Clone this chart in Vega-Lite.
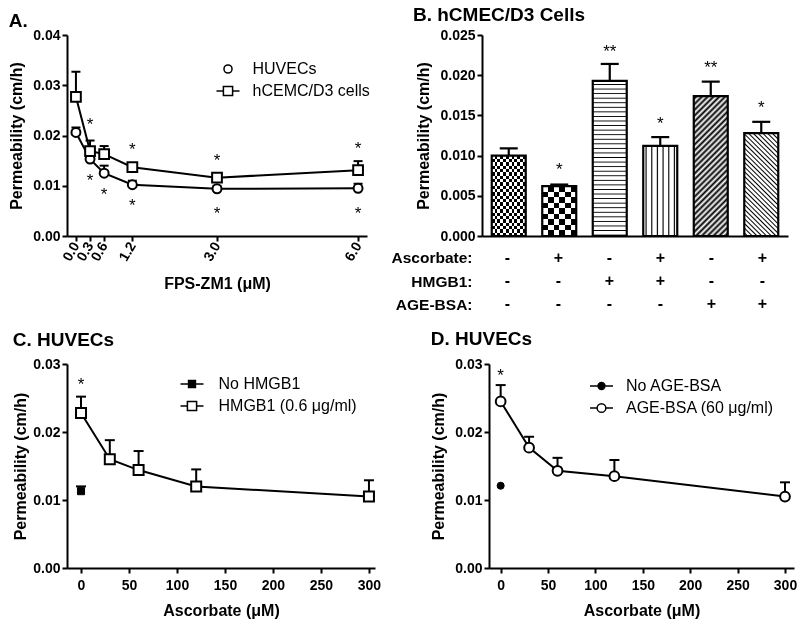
{
"$schema": "https://vega.github.io/schema/vega-lite/v6.json",
"background": "white",
"padding": {"left": 8, "top": 6, "right": 5, "bottom": 5},
"config": {
 "font": "Liberation Sans",
 "view": {"stroke": null},
 "axis": {"labelFont": "Liberation Sans", "labelFontSize": 14, "labelFontWeight": "bold", "labelColor": "black", "titleFont": "Liberation Sans", "titleFontSize": 16, "titleFontWeight": "bold", "titleColor": "black", "domainColor": "black", "domainWidth": 2, "tickColor": "black", "tickWidth": 2, "tickSize": 5, "grid": false, "labelPadding": 2},
 "axisY": {"titlePadding": 8},
 "title": {"fontSize": 19, "fontWeight": "bold", "anchor": "start", "frame": "bounds", "color": "black", "font": "Liberation Sans"},
 "legend": {"orient": "none", "title": null, "labelFont": "Liberation Sans", "labelFontSize": 16, "labelFontWeight": "normal", "labelColor": "black", "symbolSize": 529, "padding": 0, "rowPadding": 1, "symbolStrokeWidth": 1.5, "symbolStrokeColor": "black", "direction": "vertical"}
},
"datasets": {
 "A": [
  {"s": "HUVECs", "x": 0, "y": 0.0206, "e": 0.0216},
  {"s": "HUVECs", "x": 0.3, "y": 0.0153, "e": 0.0159},
  {"s": "HUVECs", "x": 0.6, "y": 0.0125, "e": 0.0140},
  {"s": "HUVECs", "x": 1.2, "y": 0.0102, "e": 0.0110},
  {"s": "HUVECs", "x": 3, "y": 0.0094, "e": 0.0100},
  {"s": "HUVECs", "x": 6, "y": 0.0095, "e": 0.0104},
  {"s": "hCEMC/D3 cells", "x": 0, "y": 0.0277, "e": 0.0327},
  {"s": "hCEMC/D3 cells", "x": 0.3, "y": 0.0169, "e": 0.0190},
  {"s": "hCEMC/D3 cells", "x": 0.6, "y": 0.0163, "e": 0.0179},
  {"s": "hCEMC/D3 cells", "x": 1.2, "y": 0.0137, "e": 0.0145},
  {"s": "hCEMC/D3 cells", "x": 3, "y": 0.0116, "e": 0.0123},
  {"s": "hCEMC/D3 cells", "x": 6, "y": 0.0131, "e": 0.0149}
 ],
 "Astar": [
  {"x": 0.3, "y": 0.0230}, {"x": 1.2, "y": 0.0181}, {"x": 3, "y": 0.0159}, {"x": 6, "y": 0.0183},
  {"x": 0.3, "y": 0.0119}, {"x": 0.6, "y": 0.0092}, {"x": 1.2, "y": 0.0070}, {"x": 3, "y": 0.0053}, {"x": 6, "y": 0.0053}
 ],
 "B": [
  {"g": 1, "v": 0.0100, "e": 0.0109, "s": null, "t": ""},
  {"g": 2, "v": 0.0062, "e": 0.0064, "s": 0.0088, "t": "*"},
  {"g": 3, "v": 0.0193, "e": 0.0214, "s": 0.0235, "t": "**"},
  {"g": 4, "v": 0.0112, "e": 0.0123, "s": 0.0146, "t": "*"},
  {"g": 5, "v": 0.0174, "e": 0.0192, "s": 0.0215, "t": "**"},
  {"g": 6, "v": 0.0128, "e": 0.0142, "s": 0.0165, "t": "*"}
 ],
 "T": [
  {"g": 1, "f": "Ascorbate:", "t": "-"}, {"g": 2, "f": "Ascorbate:", "t": "+"}, {"g": 3, "f": "Ascorbate:", "t": "-"}, {"g": 4, "f": "Ascorbate:", "t": "+"}, {"g": 5, "f": "Ascorbate:", "t": "-"}, {"g": 6, "f": "Ascorbate:", "t": "+"},
  {"g": 1, "f": "HMGB1:", "t": "-"}, {"g": 2, "f": "HMGB1:", "t": "-"}, {"g": 3, "f": "HMGB1:", "t": "+"}, {"g": 4, "f": "HMGB1:", "t": "+"}, {"g": 5, "f": "HMGB1:", "t": "-"}, {"g": 6, "f": "HMGB1:", "t": "-"},
  {"g": 1, "f": "AGE-BSA:", "t": "-"}, {"g": 2, "f": "AGE-BSA:", "t": "-"}, {"g": 3, "f": "AGE-BSA:", "t": "-"}, {"g": 4, "f": "AGE-BSA:", "t": "-"}, {"g": 5, "f": "AGE-BSA:", "t": "+"}, {"g": 6, "f": "AGE-BSA:", "t": "+"}
 ],
 "C": [
  {"s": "HMGB1 (0.6 μg/ml)", "x": 0, "y": 0.0228, "e": 0.0252},
  {"s": "HMGB1 (0.6 μg/ml)", "x": 30, "y": 0.0160, "e": 0.0188},
  {"s": "HMGB1 (0.6 μg/ml)", "x": 60, "y": 0.0144, "e": 0.0172},
  {"s": "HMGB1 (0.6 μg/ml)", "x": 120, "y": 0.0120, "e": 0.0145},
  {"s": "HMGB1 (0.6 μg/ml)", "x": 300, "y": 0.0105, "e": 0.0129},
  {"s": "No HMGB1", "x": 0, "y": 0.0113, "e": 0.0120}
 ],
 "Cstar": [{"x": 0, "y": 0.0276}],
 "D": [
  {"s": "AGE-BSA (60 μg/ml)", "x": 0, "y": 0.0245, "e": 0.0269},
  {"s": "AGE-BSA (60 μg/ml)", "x": 30, "y": 0.0177, "e": 0.0193},
  {"s": "AGE-BSA (60 μg/ml)", "x": 60, "y": 0.0143, "e": 0.0162},
  {"s": "AGE-BSA (60 μg/ml)", "x": 120, "y": 0.0135, "e": 0.0159},
  {"s": "AGE-BSA (60 μg/ml)", "x": 300, "y": 0.0105, "e": 0.0126},
  {"s": "No AGE-BSA", "x": 0, "y": 0.0121, "e": null}
 ],
 "Dstar": [{"x": 0, "y": 0.0289}]
},
"spacing": 14,
"resolve": {"scale": {"shape": "independent", "fill": "independent", "stroke": "independent"}},
"vconcat": [
 {
  "spacing": 20,
  "resolve": {"scale": {"shape": "independent", "fill": "independent", "stroke": "independent"}},
  "hconcat": [
   {
    "title": {"text": "A.", "offset": -3},
    "width": 300, "height": 201,
    "data": {"name": "A"},
    "encoding": {
     "x": {"field": "x", "type": "quantitative", "scale": {"domain": [-0.19, 6.19], "nice": false, "zero": false}, "axis": {"values": [0, 0.3, 0.6, 1.2, 3, 6], "format": ".1f", "labelAngle": -60, "labelAlign": "right", "labelBaseline": "middle", "labelOverlap": false, "labelFlush": false, "labelBound": false, "title": "FPS-ZM1 (μM)", "titlePadding": 12}},
     "y": {"field": "y", "type": "quantitative", "title": "Permeability (cm/h)", "scale": {"domain": [0, 0.04], "nice": false}, "axis": {"values": [0, 0.01, 0.02, 0.03, 0.04], "format": ".2f"}}
    },
    "layer": [
     {"mark": {"type": "rule", "color": "black", "strokeWidth": 2}, "encoding": {"y2": {"field": "e"}}},
     {"mark": {"type": "tick", "orient": "horizontal", "color": "black", "opacity": 1, "size": 9, "thickness": 2}, "encoding": {"y": {"field": "e", "type": "quantitative", "title": "Permeability (cm/h)"}}},
     {"mark": {"type": "line", "color": "black", "strokeWidth": 2}, "encoding": {"detail": {"field": "s"}}},
     {"transform": [{"filter": "datum.s == 'HUVECs'"}], "mark": {"type": "point", "shape": "circle", "filled": true, "fill": "white", "stroke": "black", "strokeWidth": 2, "size": 80, "opacity": 1}},
     {"transform": [{"filter": "datum.s != 'HUVECs'"}], "mark": {"type": "point", "shape": "square", "filled": true, "fill": "white", "stroke": "black", "strokeWidth": 2, "size": 95, "opacity": 1}},
     {"data": {"name": "Astar"}, "mark": {"type": "text", "text": "*", "fontSize": 17, "color": "black", "baseline": "alphabetic", "dy": 10}},
     {"transform": [{"filter": "false"}], "mark": {"type": "point", "filled": true, "strokeWidth": 1.5, "opacity": 1},
      "encoding": {
       "shape": {"field": "s", "type": "nominal", "scale": {"domain": ["HUVECs", "hCEMC/D3 cells"], "range": ["M-0.35,0A0.35,0.35 0 1,1 0.35,0A0.35,0.35 0 1,1 -0.35,0Z", "M-1,0H-0.4M0.4,0H1M-0.4,-0.4H0.4V0.4H-0.4Z"]}, "legend": {"legendX": 148.5, "legendY": 21.5, "labelOffset": 12}},
       "fill": {"field": "s", "type": "nominal", "scale": {"domain": ["HUVECs", "hCEMC/D3 cells"], "range": ["white", "white"]}, "legend": {"legendX": 148.5, "legendY": 21.5, "labelOffset": 12}},
       "stroke": {"field": "s", "type": "nominal", "scale": {"domain": ["HUVECs", "hCEMC/D3 cells"], "range": ["black", "black"]}, "legend": {"legendX": 148.5, "legendY": 21.5, "labelOffset": 12}}
      }}
    ]
   },
   {
    "spacing": 3,
    "vconcat": [
     {
      "title": {"text": "B. hCMEC/D3 Cells", "offset": 3, "dx": -3},
      "width": 306, "height": 201,
      "data": {"name": "B"},
      "encoding": {
       "x": {"field": "g", "type": "nominal", "scale": {"paddingInner": 0.327, "paddingOuter": 0.193}, "axis": {"labels": false, "ticks": false, "title": null}},
       "y": {"field": "v", "type": "quantitative", "title": "Permeability (cm/h)", "scale": {"domain": [0, 0.025], "nice": false}, "axis": {"values": [0, 0.005, 0.01, 0.015, 0.02, 0.025], "format": ".3f"}}
      },
      "layer": [
       {"transform": [{"filter": "datum.g == 1"}], "mark": {"type": "bar", "fill": {"gradient": "linear", "x1": 0, "y1": 0, "x2": 0, "y2": 1, "stops": [
        {"offset": 0.0417, "color": "#000"}, {"offset": 0.0417, "color": "#fff"}, {"offset": 0.0833, "color": "#fff"}, {"offset": 0.0833, "color": "#000"},
        {"offset": 0.125, "color": "#000"}, {"offset": 0.125, "color": "#fff"}, {"offset": 0.1667, "color": "#fff"}, {"offset": 0.1667, "color": "#000"},
        {"offset": 0.2083, "color": "#000"}, {"offset": 0.2083, "color": "#fff"}, {"offset": 0.25, "color": "#fff"}, {"offset": 0.25, "color": "#000"},
        {"offset": 0.2917, "color": "#000"}, {"offset": 0.2917, "color": "#fff"}, {"offset": 0.3333, "color": "#fff"}, {"offset": 0.3333, "color": "#000"},
        {"offset": 0.375, "color": "#000"}, {"offset": 0.375, "color": "#fff"}, {"offset": 0.4167, "color": "#fff"}, {"offset": 0.4167, "color": "#000"},
        {"offset": 0.4583, "color": "#000"}, {"offset": 0.4583, "color": "#fff"}, {"offset": 0.5, "color": "#fff"}, {"offset": 0.5, "color": "#000"},
        {"offset": 0.5417, "color": "#000"}, {"offset": 0.5417, "color": "#fff"}, {"offset": 0.5833, "color": "#fff"}, {"offset": 0.5833, "color": "#000"},
        {"offset": 0.625, "color": "#000"}, {"offset": 0.625, "color": "#fff"}, {"offset": 0.6667, "color": "#fff"}, {"offset": 0.6667, "color": "#000"},
        {"offset": 0.7083, "color": "#000"}, {"offset": 0.7083, "color": "#fff"}, {"offset": 0.75, "color": "#fff"}, {"offset": 0.75, "color": "#000"},
        {"offset": 0.7917, "color": "#000"}, {"offset": 0.7917, "color": "#fff"}, {"offset": 0.8333, "color": "#fff"}, {"offset": 0.8333, "color": "#000"},
        {"offset": 0.875, "color": "#000"}, {"offset": 0.875, "color": "#fff"}, {"offset": 0.9167, "color": "#fff"}, {"offset": 0.9167, "color": "#000"},
        {"offset": 0.9583, "color": "#000"}, {"offset": 0.9583, "color": "#fff"}]}}},
       {"transform": [{"filter": "datum.g == 1"}], "mark": {"type": "bar", "blend": "difference", "fill": {"gradient": "linear", "x1": 0, "y1": 0, "x2": 1, "y2": 0, "stops": [
        {"offset": 0.0833, "color": "#fff"}, {"offset": 0.0833, "color": "rgba(255,255,255,0)"}, {"offset": 0.1667, "color": "rgba(255,255,255,0)"}, {"offset": 0.1667, "color": "#fff"},
        {"offset": 0.25, "color": "#fff"}, {"offset": 0.25, "color": "rgba(255,255,255,0)"}, {"offset": 0.3333, "color": "rgba(255,255,255,0)"}, {"offset": 0.3333, "color": "#fff"},
        {"offset": 0.4167, "color": "#fff"}, {"offset": 0.4167, "color": "rgba(255,255,255,0)"}, {"offset": 0.5, "color": "rgba(255,255,255,0)"}, {"offset": 0.5, "color": "#fff"},
        {"offset": 0.5833, "color": "#fff"}, {"offset": 0.5833, "color": "rgba(255,255,255,0)"}, {"offset": 0.6667, "color": "rgba(255,255,255,0)"}, {"offset": 0.6667, "color": "#fff"},
        {"offset": 0.75, "color": "#fff"}, {"offset": 0.75, "color": "rgba(255,255,255,0)"}, {"offset": 0.8333, "color": "rgba(255,255,255,0)"}, {"offset": 0.8333, "color": "#fff"},
        {"offset": 0.9167, "color": "#fff"}, {"offset": 0.9167, "color": "rgba(255,255,255,0)"}]}}},
       {"transform": [{"filter": "datum.g == 2"}], "mark": {"type": "bar", "fill": {"gradient": "linear", "x1": 0, "y1": 0, "x2": 0, "y2": 1, "stops": [
        {"offset": 0.1111, "color": "#000"}, {"offset": 0.1111, "color": "#fff"}, {"offset": 0.2222, "color": "#fff"}, {"offset": 0.2222, "color": "#000"},
        {"offset": 0.3333, "color": "#000"}, {"offset": 0.3333, "color": "#fff"}, {"offset": 0.4444, "color": "#fff"}, {"offset": 0.4444, "color": "#000"},
        {"offset": 0.5556, "color": "#000"}, {"offset": 0.5556, "color": "#fff"}, {"offset": 0.6667, "color": "#fff"}, {"offset": 0.6667, "color": "#000"},
        {"offset": 0.7778, "color": "#000"}, {"offset": 0.7778, "color": "#fff"}, {"offset": 0.8889, "color": "#fff"}, {"offset": 0.8889, "color": "#000"}]}}},
       {"transform": [{"filter": "datum.g == 2"}], "mark": {"type": "bar", "blend": "difference", "fill": {"gradient": "linear", "x1": 0, "y1": 0, "x2": 1, "y2": 0, "stops": [
        {"offset": 0.1667, "color": "#fff"}, {"offset": 0.1667, "color": "rgba(255,255,255,0)"}, {"offset": 0.3333, "color": "rgba(255,255,255,0)"}, {"offset": 0.3333, "color": "#fff"},
        {"offset": 0.5, "color": "#fff"}, {"offset": 0.5, "color": "rgba(255,255,255,0)"}, {"offset": 0.6667, "color": "rgba(255,255,255,0)"}, {"offset": 0.6667, "color": "#fff"},
        {"offset": 0.8333, "color": "#fff"}, {"offset": 0.8333, "color": "rgba(255,255,255,0)"}]}}},
       {"transform": [{"filter": "datum.g == 3"}], "mark": {"type": "bar", "fill": {"gradient": "linear", "x1": 0, "y1": 0, "x2": 0, "y2": 1, "stops": [
        {"offset": 0.0176, "color": "#fff"}, {"offset": 0.0235, "color": "#000"}, {"offset": 0.0294, "color": "#fff"},
        {"offset": 0.0471, "color": "#fff"}, {"offset": 0.0529, "color": "#000"}, {"offset": 0.0588, "color": "#fff"},
        {"offset": 0.0765, "color": "#fff"}, {"offset": 0.0824, "color": "#000"}, {"offset": 0.0882, "color": "#fff"},
        {"offset": 0.1059, "color": "#fff"}, {"offset": 0.1118, "color": "#000"}, {"offset": 0.1176, "color": "#fff"},
        {"offset": 0.1353, "color": "#fff"}, {"offset": 0.1412, "color": "#000"}, {"offset": 0.1471, "color": "#fff"},
        {"offset": 0.1647, "color": "#fff"}, {"offset": 0.1706, "color": "#000"}, {"offset": 0.1765, "color": "#fff"},
        {"offset": 0.1941, "color": "#fff"}, {"offset": 0.2, "color": "#000"}, {"offset": 0.2059, "color": "#fff"},
        {"offset": 0.2235, "color": "#fff"}, {"offset": 0.2294, "color": "#000"}, {"offset": 0.2353, "color": "#fff"},
        {"offset": 0.2529, "color": "#fff"}, {"offset": 0.2588, "color": "#000"}, {"offset": 0.2647, "color": "#fff"},
        {"offset": 0.2824, "color": "#fff"}, {"offset": 0.2882, "color": "#000"}, {"offset": 0.2941, "color": "#fff"},
        {"offset": 0.3118, "color": "#fff"}, {"offset": 0.3176, "color": "#000"}, {"offset": 0.3235, "color": "#fff"},
        {"offset": 0.3412, "color": "#fff"}, {"offset": 0.3471, "color": "#000"}, {"offset": 0.3529, "color": "#fff"},
        {"offset": 0.3706, "color": "#fff"}, {"offset": 0.3765, "color": "#000"}, {"offset": 0.3824, "color": "#fff"},
        {"offset": 0.4, "color": "#fff"}, {"offset": 0.4059, "color": "#000"}, {"offset": 0.4118, "color": "#fff"},
        {"offset": 0.4294, "color": "#fff"}, {"offset": 0.4353, "color": "#000"}, {"offset": 0.4412, "color": "#fff"},
        {"offset": 0.4588, "color": "#fff"}, {"offset": 0.4647, "color": "#000"}, {"offset": 0.4706, "color": "#fff"},
        {"offset": 0.4882, "color": "#fff"}, {"offset": 0.4941, "color": "#000"}, {"offset": 0.5, "color": "#fff"},
        {"offset": 0.5176, "color": "#fff"}, {"offset": 0.5235, "color": "#000"}, {"offset": 0.5294, "color": "#fff"},
        {"offset": 0.5471, "color": "#fff"}, {"offset": 0.5529, "color": "#000"}, {"offset": 0.5588, "color": "#fff"},
        {"offset": 0.5765, "color": "#fff"}, {"offset": 0.5824, "color": "#000"}, {"offset": 0.5882, "color": "#fff"},
        {"offset": 0.6059, "color": "#fff"}, {"offset": 0.6118, "color": "#000"}, {"offset": 0.6176, "color": "#fff"},
        {"offset": 0.6353, "color": "#fff"}, {"offset": 0.6412, "color": "#000"}, {"offset": 0.6471, "color": "#fff"},
        {"offset": 0.6647, "color": "#fff"}, {"offset": 0.6706, "color": "#000"}, {"offset": 0.6765, "color": "#fff"},
        {"offset": 0.6941, "color": "#fff"}, {"offset": 0.7, "color": "#000"}, {"offset": 0.7059, "color": "#fff"},
        {"offset": 0.7235, "color": "#fff"}, {"offset": 0.7294, "color": "#000"}, {"offset": 0.7353, "color": "#fff"},
        {"offset": 0.7529, "color": "#fff"}, {"offset": 0.7588, "color": "#000"}, {"offset": 0.7647, "color": "#fff"},
        {"offset": 0.7824, "color": "#fff"}, {"offset": 0.7882, "color": "#000"}, {"offset": 0.7941, "color": "#fff"},
        {"offset": 0.8118, "color": "#fff"}, {"offset": 0.8176, "color": "#000"}, {"offset": 0.8235, "color": "#fff"},
        {"offset": 0.8412, "color": "#fff"}, {"offset": 0.8471, "color": "#000"}, {"offset": 0.8529, "color": "#fff"},
        {"offset": 0.8706, "color": "#fff"}, {"offset": 0.8765, "color": "#000"}, {"offset": 0.8824, "color": "#fff"},
        {"offset": 0.9, "color": "#fff"}, {"offset": 0.9059, "color": "#000"}, {"offset": 0.9118, "color": "#fff"},
        {"offset": 0.9294, "color": "#fff"}, {"offset": 0.9353, "color": "#000"}, {"offset": 0.9412, "color": "#fff"},
        {"offset": 0.9588, "color": "#fff"}, {"offset": 0.9647, "color": "#000"}, {"offset": 0.9706, "color": "#fff"},
        {"offset": 0.9882, "color": "#fff"}, {"offset": 0.9941, "color": "#000"}, {"offset": 1, "color": "#fff"}]}}},
       {"transform": [{"filter": "datum.g == 4"}], "mark": {"type": "bar", "fill": {"gradient": "linear", "x1": 0, "y1": 0, "x2": 1, "y2": 0, "stops": [
        {"offset": 0.05, "color": "#fff"}, {"offset": 0.0833, "color": "#000"}, {"offset": 0.1167, "color": "#fff"},
        {"offset": 0.2167, "color": "#fff"}, {"offset": 0.25, "color": "#000"}, {"offset": 0.2833, "color": "#fff"},
        {"offset": 0.3833, "color": "#fff"}, {"offset": 0.4167, "color": "#000"}, {"offset": 0.45, "color": "#fff"},
        {"offset": 0.55, "color": "#fff"}, {"offset": 0.5833, "color": "#000"}, {"offset": 0.6167, "color": "#fff"},
        {"offset": 0.7167, "color": "#fff"}, {"offset": 0.75, "color": "#000"}, {"offset": 0.7833, "color": "#fff"},
        {"offset": 0.8833, "color": "#fff"}, {"offset": 0.9167, "color": "#000"}, {"offset": 0.95, "color": "#fff"}]}}},
       {"transform": [{"filter": "datum.g == 5"}], "mark": {"type": "bar", "fill": {"gradient": "linear", "x1": 0, "y1": 0, "x2": 0.285, "y2": 1.174, "stops": [
        {"offset": 0, "color": "#fff"}, {"offset": 0.0167, "color": "#000"}, {"offset": 0.0333, "color": "#fff"}, {"offset": 0.05, "color": "#000"},
        {"offset": 0.0667, "color": "#fff"}, {"offset": 0.0833, "color": "#000"}, {"offset": 0.1, "color": "#fff"}, {"offset": 0.1167, "color": "#000"},
        {"offset": 0.1333, "color": "#fff"}, {"offset": 0.15, "color": "#000"}, {"offset": 0.1667, "color": "#fff"}, {"offset": 0.1833, "color": "#000"},
        {"offset": 0.2, "color": "#fff"}, {"offset": 0.2167, "color": "#000"}, {"offset": 0.2333, "color": "#fff"}, {"offset": 0.25, "color": "#000"},
        {"offset": 0.2667, "color": "#fff"}, {"offset": 0.2833, "color": "#000"}, {"offset": 0.3, "color": "#fff"}, {"offset": 0.3167, "color": "#000"},
        {"offset": 0.3333, "color": "#fff"}, {"offset": 0.35, "color": "#000"}, {"offset": 0.3667, "color": "#fff"}, {"offset": 0.3833, "color": "#000"},
        {"offset": 0.4, "color": "#fff"}, {"offset": 0.4167, "color": "#000"}, {"offset": 0.4333, "color": "#fff"}, {"offset": 0.45, "color": "#000"},
        {"offset": 0.4667, "color": "#fff"}, {"offset": 0.4833, "color": "#000"}, {"offset": 0.5, "color": "#fff"}, {"offset": 0.5167, "color": "#000"},
        {"offset": 0.5333, "color": "#fff"}, {"offset": 0.55, "color": "#000"}, {"offset": 0.5667, "color": "#fff"}, {"offset": 0.5833, "color": "#000"},
        {"offset": 0.6, "color": "#fff"}, {"offset": 0.6167, "color": "#000"}, {"offset": 0.6333, "color": "#fff"}, {"offset": 0.65, "color": "#000"},
        {"offset": 0.6667, "color": "#fff"}, {"offset": 0.6833, "color": "#000"}, {"offset": 0.7, "color": "#fff"}, {"offset": 0.7167, "color": "#000"},
        {"offset": 0.7333, "color": "#fff"}, {"offset": 0.75, "color": "#000"}, {"offset": 0.7667, "color": "#fff"}, {"offset": 0.7833, "color": "#000"},
        {"offset": 0.8, "color": "#fff"}, {"offset": 0.8167, "color": "#000"}, {"offset": 0.8333, "color": "#fff"}, {"offset": 0.85, "color": "#000"},
        {"offset": 0.8667, "color": "#fff"}, {"offset": 0.8833, "color": "#000"}, {"offset": 0.9, "color": "#fff"}, {"offset": 0.9167, "color": "#000"},
        {"offset": 0.9333, "color": "#fff"}, {"offset": 0.95, "color": "#000"}, {"offset": 0.9667, "color": "#fff"}, {"offset": 0.9833, "color": "#000"},
        {"offset": 1, "color": "#fff"}]}}},
       {"transform": [{"filter": "datum.g == 6"}], "mark": {"type": "bar", "fill": {"gradient": "linear", "x1": 0, "y1": 1, "x2": 0.392, "y2": -0.199, "stops": [
        {"offset": 0.0138, "color": "#fff"}, {"offset": 0.0241, "color": "#000"}, {"offset": 0.0345, "color": "#fff"},
        {"offset": 0.0483, "color": "#fff"}, {"offset": 0.0586, "color": "#000"}, {"offset": 0.069, "color": "#fff"},
        {"offset": 0.0828, "color": "#fff"}, {"offset": 0.0931, "color": "#000"}, {"offset": 0.1034, "color": "#fff"},
        {"offset": 0.1172, "color": "#fff"}, {"offset": 0.1276, "color": "#000"}, {"offset": 0.1379, "color": "#fff"},
        {"offset": 0.1517, "color": "#fff"}, {"offset": 0.1621, "color": "#000"}, {"offset": 0.1724, "color": "#fff"},
        {"offset": 0.1862, "color": "#fff"}, {"offset": 0.1966, "color": "#000"}, {"offset": 0.2069, "color": "#fff"},
        {"offset": 0.2207, "color": "#fff"}, {"offset": 0.231, "color": "#000"}, {"offset": 0.2414, "color": "#fff"},
        {"offset": 0.2552, "color": "#fff"}, {"offset": 0.2655, "color": "#000"}, {"offset": 0.2759, "color": "#fff"},
        {"offset": 0.2897, "color": "#fff"}, {"offset": 0.3, "color": "#000"}, {"offset": 0.3103, "color": "#fff"},
        {"offset": 0.3241, "color": "#fff"}, {"offset": 0.3345, "color": "#000"}, {"offset": 0.3448, "color": "#fff"},
        {"offset": 0.3586, "color": "#fff"}, {"offset": 0.369, "color": "#000"}, {"offset": 0.3793, "color": "#fff"},
        {"offset": 0.3931, "color": "#fff"}, {"offset": 0.4034, "color": "#000"}, {"offset": 0.4138, "color": "#fff"},
        {"offset": 0.4276, "color": "#fff"}, {"offset": 0.4379, "color": "#000"}, {"offset": 0.4483, "color": "#fff"},
        {"offset": 0.4621, "color": "#fff"}, {"offset": 0.4724, "color": "#000"}, {"offset": 0.4828, "color": "#fff"},
        {"offset": 0.4966, "color": "#fff"}, {"offset": 0.5069, "color": "#000"}, {"offset": 0.5172, "color": "#fff"},
        {"offset": 0.531, "color": "#fff"}, {"offset": 0.5414, "color": "#000"}, {"offset": 0.5517, "color": "#fff"},
        {"offset": 0.5655, "color": "#fff"}, {"offset": 0.5759, "color": "#000"}, {"offset": 0.5862, "color": "#fff"},
        {"offset": 0.6, "color": "#fff"}, {"offset": 0.6103, "color": "#000"}, {"offset": 0.6207, "color": "#fff"},
        {"offset": 0.6345, "color": "#fff"}, {"offset": 0.6448, "color": "#000"}, {"offset": 0.6552, "color": "#fff"},
        {"offset": 0.669, "color": "#fff"}, {"offset": 0.6793, "color": "#000"}, {"offset": 0.6897, "color": "#fff"},
        {"offset": 0.7034, "color": "#fff"}, {"offset": 0.7138, "color": "#000"}, {"offset": 0.7241, "color": "#fff"},
        {"offset": 0.7379, "color": "#fff"}, {"offset": 0.7483, "color": "#000"}, {"offset": 0.7586, "color": "#fff"},
        {"offset": 0.7724, "color": "#fff"}, {"offset": 0.7828, "color": "#000"}, {"offset": 0.7931, "color": "#fff"},
        {"offset": 0.8069, "color": "#fff"}, {"offset": 0.8172, "color": "#000"}, {"offset": 0.8276, "color": "#fff"},
        {"offset": 0.8414, "color": "#fff"}, {"offset": 0.8517, "color": "#000"}, {"offset": 0.8621, "color": "#fff"},
        {"offset": 0.8759, "color": "#fff"}, {"offset": 0.8862, "color": "#000"}, {"offset": 0.8966, "color": "#fff"},
        {"offset": 0.9103, "color": "#fff"}, {"offset": 0.9207, "color": "#000"}, {"offset": 0.931, "color": "#fff"},
        {"offset": 0.9448, "color": "#fff"}, {"offset": 0.9552, "color": "#000"}, {"offset": 0.9655, "color": "#fff"},
        {"offset": 0.9793, "color": "#fff"}, {"offset": 0.9897, "color": "#000"}, {"offset": 1, "color": "#fff"}]}}},
       {"mark": {"type": "bar", "fill": "transparent", "stroke": "black", "strokeWidth": 2.2}},
       {"mark": {"type": "rule", "color": "black", "strokeWidth": 2.2}, "encoding": {"y2": {"field": "e"}}},
       {"mark": {"type": "tick", "color": "black", "opacity": 1, "size": 18, "thickness": 2.2}, "encoding": {"y": {"field": "e", "type": "quantitative", "title": "Permeability (cm/h)"}}},
       {"transform": [{"filter": "datum.s != null"}], "mark": {"type": "text", "fontSize": 17, "color": "black", "baseline": "alphabetic", "dy": 10}, "encoding": {"y": {"field": "s", "type": "quantitative", "title": "Permeability (cm/h)"}, "text": {"field": "t"}}}
      ]
     },
     {
      "width": 306, "height": 70,
      "data": {"name": "T"},
      "mark": {"type": "text", "fontSize": 16, "fontWeight": "bold", "color": "black", "baseline": "middle", "align": "center"},
      "encoding": {
       "x": {"field": "g", "type": "nominal", "scale": {"paddingInner": 0.327, "paddingOuter": 0.193}, "axis": null},
       "y": {"field": "f", "type": "nominal", "sort": ["Ascorbate:", "HMGB1:", "AGE-BSA:"], "scale": {"paddingInner": 0, "paddingOuter": 0}, "axis": {"domain": false, "ticks": false, "labelFontSize": 15.5, "labelFontWeight": "bold", "labelPadding": 10, "title": null}},
       "text": {"field": "t"}
      }
     }
    ]
   }
  ]
 },
 {
  "spacing": 49,
  "resolve": {"scale": {"shape": "independent", "fill": "independent", "stroke": "independent"}},
  "hconcat": [
   {
    "title": {"text": "C. HUVECs", "offset": 7},
    "width": 308, "height": 204,
    "data": {"name": "C"},
    "encoding": {
     "x": {"field": "x", "type": "quantitative", "scale": {"domain": [-14.6, 306.3], "nice": false, "zero": false}, "axis": {"values": [0, 50, 100, 150, 200, 250, 300], "title": "Ascorbate (μM)", "labelPadding": 5, "titlePadding": 10}},
     "y": {"field": "y", "type": "quantitative", "title": "Permeability (cm/h)", "scale": {"domain": [0, 0.03], "nice": false}, "axis": {"values": [0, 0.01, 0.02, 0.03], "format": ".2f", "titlePadding": 4}}
    },
    "layer": [
     {"mark": {"type": "rule", "color": "black", "strokeWidth": 2}, "encoding": {"y2": {"field": "e"}}},
     {"mark": {"type": "tick", "orient": "horizontal", "color": "black", "opacity": 1, "size": 10, "thickness": 2}, "encoding": {"y": {"field": "e", "type": "quantitative", "title": "Permeability (cm/h)"}}},
     {"mark": {"type": "line", "color": "black", "strokeWidth": 2}, "encoding": {"detail": {"field": "s"}}},
     {"transform": [{"filter": "datum.s != 'No HMGB1'"}], "mark": {"type": "point", "shape": "square", "filled": true, "fill": "white", "stroke": "black", "strokeWidth": 2, "size": 100, "opacity": 1}},
     {"transform": [{"filter": "datum.s == 'No HMGB1'"}], "mark": {"type": "point", "shape": "square", "filled": true, "fill": "black", "stroke": "black", "strokeWidth": 1, "size": 50, "opacity": 1}},
     {"data": {"name": "Cstar"}, "mark": {"type": "text", "text": "*", "fontSize": 17, "color": "black", "baseline": "alphabetic", "dy": 10}},
     {"transform": [{"filter": "false"}], "mark": {"type": "point", "filled": true, "strokeWidth": 1.5, "opacity": 1},
      "encoding": {
       "shape": {"field": "s", "type": "nominal", "scale": {"domain": ["No HMGB1", "HMGB1 (0.6 μg/ml)"], "range": ["M-1,0H-0.3M0.3,0H1M-0.3,-0.3H0.3V0.3H-0.3Z", "M-1,0H-0.4M0.4,0H1M-0.4,-0.4H0.4V0.4H-0.4Z"]}, "legend": {"legendX": 112.5, "legendY": 7.5, "labelOffset": 14}},
       "fill": {"field": "s", "type": "nominal", "scale": {"domain": ["No HMGB1", "HMGB1 (0.6 μg/ml)"], "range": ["black", "white"]}, "legend": {"legendX": 112.5, "legendY": 7.5, "labelOffset": 14}},
       "stroke": {"field": "s", "type": "nominal", "scale": {"domain": ["No HMGB1", "HMGB1 (0.6 μg/ml)"], "range": ["black", "black"]}, "legend": {"legendX": 112.5, "legendY": 7.5, "labelOffset": 14}}
      }}
    ]
   },
   {
    "title": {"text": "D. HUVECs", "offset": 8},
    "width": 305, "height": 204,
    "data": {"name": "D"},
    "encoding": {
     "x": {"field": "x", "type": "quantitative", "scale": {"domain": [-12.3, 309.5], "nice": false, "zero": false}, "axis": {"values": [0, 50, 100, 150, 200, 250, 300], "title": "Ascorbate (μM)", "labelPadding": 5, "titlePadding": 10}},
     "y": {"field": "y", "type": "quantitative", "title": "Permeability (cm/h)", "scale": {"domain": [0, 0.03], "nice": false}, "axis": {"values": [0, 0.01, 0.02, 0.03], "format": ".2f"}}
    },
    "layer": [
     {"transform": [{"filter": "datum.e != null"}], "mark": {"type": "rule", "color": "black", "strokeWidth": 2}, "encoding": {"y2": {"field": "e"}}},
     {"transform": [{"filter": "datum.e != null"}], "mark": {"type": "tick", "orient": "horizontal", "color": "black", "opacity": 1, "size": 10, "thickness": 2}, "encoding": {"y": {"field": "e", "type": "quantitative", "title": "Permeability (cm/h)"}}},
     {"mark": {"type": "line", "color": "black", "strokeWidth": 2}, "encoding": {"detail": {"field": "s"}}},
     {"transform": [{"filter": "datum.s != 'No AGE-BSA'"}], "mark": {"type": "point", "shape": "circle", "filled": true, "fill": "white", "stroke": "black", "strokeWidth": 2, "size": 95, "opacity": 1}},
     {"transform": [{"filter": "datum.s == 'No AGE-BSA'"}], "mark": {"type": "point", "shape": "circle", "filled": true, "fill": "black", "stroke": "black", "strokeWidth": 1, "size": 50, "opacity": 1}},
     {"data": {"name": "Dstar"}, "mark": {"type": "text", "text": "*", "fontSize": 17, "color": "black", "baseline": "alphabetic", "dy": 10}},
     {"transform": [{"filter": "false"}], "mark": {"type": "point", "filled": true, "strokeWidth": 1.5, "opacity": 1},
      "encoding": {
       "shape": {"field": "s", "type": "nominal", "scale": {"domain": ["No AGE-BSA", "AGE-BSA (60 μg/ml)"], "range": ["M-1,0H-0.3M0.3,0H1M-0.3,0A0.3,0.3 0 1,1 0.3,0A0.3,0.3 0 1,1 -0.3,0Z", "M-1,0H-0.38M0.38,0H1M-0.38,0A0.38,0.38 0 1,1 0.38,0A0.38,0.38 0 1,1 -0.38,0Z"]}, "legend": {"legendX": 100, "legendY": 9.5, "labelOffset": 12}},
       "fill": {"field": "s", "type": "nominal", "scale": {"domain": ["No AGE-BSA", "AGE-BSA (60 μg/ml)"], "range": ["black", "white"]}, "legend": {"legendX": 100, "legendY": 9.5, "labelOffset": 12}},
       "stroke": {"field": "s", "type": "nominal", "scale": {"domain": ["No AGE-BSA", "AGE-BSA (60 μg/ml)"], "range": ["black", "black"]}, "legend": {"legendX": 100, "legendY": 9.5, "labelOffset": 12}}
      }}
    ]
   }
  ]
 }
]
}
